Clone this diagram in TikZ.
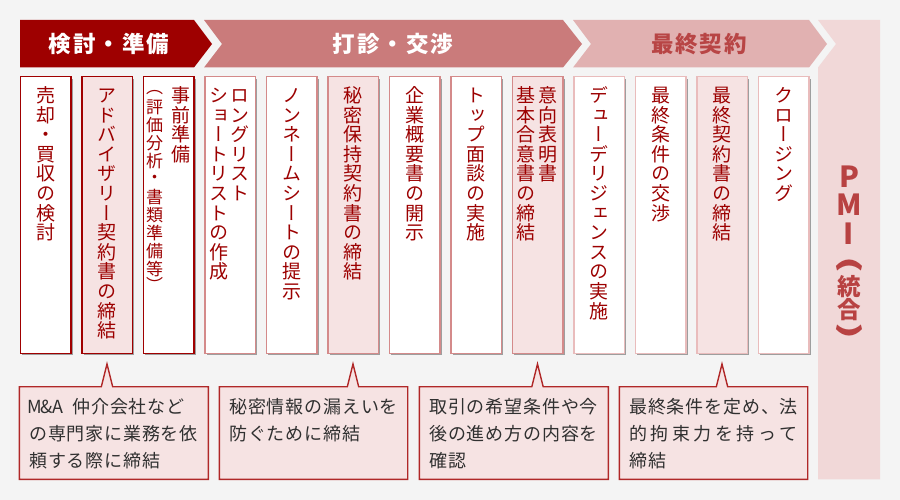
\documentclass[tikz,border=0pt]{standalone}
\usepackage{fontspec}
\usetikzlibrary{calc,shadows}
\newfontfamily\jp{Noto Sans CJK JP}
\newfontfamily\vjp{Noto Sans CJK JP}[RawFeature=+vert]
\definecolor{bgc}{HTML}{F4F4F4}
\definecolor{arA}{HTML}{9E0000}
\definecolor{arB}{HTML}{CA7B7B}
\definecolor{arC}{HTML}{E1B1B1}
\definecolor{pmif}{HTML}{F1D8D8}
\definecolor{pinkf}{HTML}{F6E3E3}
\definecolor{bdA}{HTML}{A00000}
\definecolor{bdB}{HTML}{D48A8A}
\definecolor{bdC}{HTML}{E9BCBC}
\definecolor{coltx}{HTML}{9C0000}
\definecolor{pmitx}{HTML}{B84242}
\definecolor{arCtx}{HTML}{B84545}
\definecolor{cobd}{HTML}{B02828}
\definecolor{cotx}{HTML}{303030}
% vertical stacking of characters
\def\vtloop#1{\ifx#1\relax\else\hbox to 24pt{\hss\vrule height .86em depth .14em width 0pt\relax#1\hss}\expandafter\vtloop\fi}
\newcommand\vcol[2][19.6pt]{\vtop{\baselineskip=#1\lineskiplimit=-100pt\lineskip=0pt\vtloop#2\relax}}
\newcommand\vc[2]{\vbox to #1{\vss\hbox to 24pt{\hss#2\hss}\vss}}
\def\vcloop#1{\ifx#1\relax\else\vc{18pt}{#1}\expandafter\vcloop\fi}
% horizontal pitched lines
\newlength\cpitch
\def\ploop#1{\ifx#1\relax\else\hbox to \cpitch{\hss#1\hss}\expandafter\ploop\fi}
\newcommand\cstrut{\vrule height 15pt depth 5pt width 0pt\relax}
\newcommand\pl[1]{\hbox{\cstrut\ploop#1\relax}}
\newcommand\lat[1]{\hbox to 11.7pt{\hss#1\hss}}
\tikzset{
  colbox/.style={rectangle, line width=1.5pt, minimum width=50.5pt, minimum height=276.5pt, inner sep=0pt,
    drop shadow={shadow xshift=2.2pt, shadow yshift=-2.2pt, opacity=.55, fill=black!65}},
  vtxt/.style={anchor=north, inner sep=0pt, text=coltx, font=\vjp\fontsize{19}{19.6}\selectfont},
  hdr/.style={inner sep=0pt, font=\jp\bfseries\fontsize{22.5}{24}\selectfont},
  cotext/.style={anchor=north west, inner sep=0pt, text=cotx, font=\jp\fontsize{18}{27}\selectfont},
  callout/.style={fill=pinkf, draw=cobd, line width=1.4pt, line join=miter},
  pmilat/.style={inner sep=0pt, text=pmitx, font=\jp\bfseries\fontsize{29}{29}\selectfont},
  pmikan/.style={inner sep=0pt, text=pmitx, font=\jp\bfseries\fontsize{23.5}{23.5}\selectfont},
  pmipar/.style={inner sep=0pt, text=pmitx, font=\jp\bfseries\fontsize{25}{25}\selectfont}
}
\begin{document}
\begin{tikzpicture}[x=1pt,y=-1pt]
\useasboundingbox (0,0) rectangle (900,500);
\fill[bgc] (0,0) rectangle (900,500);
% phase arrows
\fill[arA] (20,20) -- (194,20) -- (212,44) -- (194,67.5) -- (20,67.5) -- cycle;
\fill[arB] (204,20) -- (563,20) -- (582,44) -- (563,67.5) -- (204,67.5) -- (222,44) -- cycle;
\fill[arC] (573,20) -- (809,20) -- (827,44) -- (809,67.5) -- (573,67.5) -- (591,44) -- cycle;
\fill[pmif] (818,20) -- (880,20) -- (880,479.3) -- (818,479.3) -- (818,67.5) -- (836,44) -- cycle;
\node[hdr,text=white] (h1) at (109,44) {\setlength\cpitch{24.5pt}\hbox{\ploop 検討・準備\relax}};
\node[hdr,text=white] (h2) at (393,44) {\setlength\cpitch{24.5pt}\hbox{\ploop 打診・交渉\relax}};
\node[hdr,text=arCtx] (h3) at (699,44) {\setlength\cpitch{24.5pt}\hbox{\ploop 最終契約\relax}};
% PMI
\node[pmilat] (pmiP) at (849,177) {P};
\node[pmilat] (pmiM) at (849,205) {M};
\node[pmilat] (pmiI) at (849,234) {I};
\node[pmipar] (pmiL) at (849,265) {\rotatebox[origin=c]{-90}{\scalebox{1.7}[1]{(}}};
\node[pmikan] (pmiK1) at (849,287) {統};
\node[pmikan] (pmiK2) at (849,310) {合};
\node[pmipar] (pmiR) at (849,331) {\rotatebox[origin=c]{-90}{\scalebox{1.7}[1]{)}}};
% step boxes
\foreach \i/\fc/\bc in {1/white/bdA, 2/pinkf/bdA, 3/white/bdA, 4/white/bdB, 5/white/bdB, 6/pinkf/bdB, 7/white/bdB, 8/white/bdB, 9/pinkf/bdB, 10/white/bdC, 11/white/bdC, 12/pinkf/bdC, 13/white/bdC}
  \node[colbox, fill=\fc, draw=\bc] (b\i) at ({45.5+61.5*(\i-1)},215) {};
\node[vtxt] (t1) at ($(b1.north)+(0,10)$) {\vcol{売却・買収の検討}};
\node[vtxt] (t2) at ($(b2.north)+(0,10)$) {\vcol{アドバイザリー契約書の締結}};
\node[vtxt] (t3r) at ($(b3.north)+(12.5,10)$) {\vcol{事前準備}};
\node[vtxt, font=\vjp\fontsize{17}{18}\selectfont] (t3l) at ($(b3.north)+(-14,11)$) {\vtop{\offinterlineskip\vc{11pt}{（}\vcloop 評価分析・書類準備等\relax\vc{13pt}{）}}};
\node[vtxt] (t4r) at ($(b4.north)+(10,10)$) {\vcol{ロングリスト}};
\node[vtxt] (t4l) at ($(b4.north)+(-11.5,10)$) {\vcol{ショートリストの作成}};
\node[vtxt] (t5) at ($(b5.north)+(0,10)$) {\vcol{ノンネームシートの提示}};
\node[vtxt] (t6) at ($(b6.north)+(0,10)$) {\vcol{秘密保持契約書の締結}};
\node[vtxt] (t7) at ($(b7.north)+(0,10)$) {\vcol{企業概要書の開示}};
\node[vtxt] (t8) at ($(b8.north)+(0,10)$) {\vcol{トップ面談の実施}};
\node[vtxt] (t9r) at ($(b9.north)+(10,10)$) {\vcol{意向表明書}};
\node[vtxt] (t9l) at ($(b9.north)+(-11.5,10)$) {\vcol{基本合意書の締結}};
\node[vtxt] (t10) at ($(b10.north)+(0,10)$) {\vcol{デューデリジェンスの実施}};
\node[vtxt] (t11) at ($(b11.north)+(0,10)$) {\vcol{最終条件の交渉}};
\node[vtxt] (t12) at ($(b12.north)+(0,10)$) {\vcol{最終契約書の締結}};
\node[vtxt] (t13) at ($(b13.north)+(0,10)$) {\vcol{クロージング}};
% callouts
\path[callout] (19.3,386.7) -- ($(b2.south)+(-5.7,32.7)$) -- ($(b2.south)+(0,10)$) -- ($(b2.south)+(5.7,32.7)$) -- (208.3,386.7) -- (208.3,479.3) -- (19.3,479.3) -- cycle;
\path[callout] (219.3,386.7) -- ($(b6.south)+(-5.7,32.7)$) -- ($(b6.south)+(0,10)$) -- ($(b6.south)+(5.7,32.7)$) -- (407.7,386.7) -- (407.7,479.3) -- (219.3,479.3) -- cycle;
\path[callout] (419.3,386.7) -- ($(b9.south)+(-5.7,32.7)$) -- ($(b9.south)+(0,10)$) -- ($(b9.south)+(5.7,32.7)$) -- (608.3,386.7) -- (608.3,479.3) -- (419.3,479.3) -- cycle;
\path[callout] (619.3,386.7) -- ($(b12.south)+(-5.7,32.7)$) -- ($(b12.south)+(0,10)$) -- ($(b12.south)+(5.7,32.7)$) -- (807.7,386.7) -- (807.7,479.3) -- (619.3,479.3) -- cycle;
\node[cotext] (ca) at (28.8,398.5) {\setlength\cpitch{18.8pt}\vtop{\baselineskip=27pt\lineskiplimit=-100pt
  \hbox{\cstrut\lat{M}\lat{\&}\lat{A}\hspace{8pt}\ploop 仲介会社など\relax}\pl{の専門家に業務を依}\pl{頼する際に締結}}};
\node[cotext] (cb) at (228.8,398.5) {\setlength\cpitch{18.8pt}\vtop{\baselineskip=27pt\lineskiplimit=-100pt
  \pl{秘密情報の漏えいを}\pl{防ぐために締結}}};
\node[cotext] (cc) at (428.8,398.5) {\setlength\cpitch{18.8pt}\vtop{\baselineskip=27pt\lineskiplimit=-100pt
  \pl{取引の希望条件や今}\pl{後の進め方の内容を}\pl{確認}}};
\node[cotext] (cd) at (628.8,398.5) {\setlength\cpitch{18.8pt}\vtop{\baselineskip=27pt\lineskiplimit=-100pt
  \pl{最終条件を定め、法}\hbox to 169pt{\cstrut 的\hfil 拘\hfil 束\hfil 力\hfil を\hfil 持\hfil っ\hfil て}\pl{締結}}};
\end{tikzpicture}
\end{document}
